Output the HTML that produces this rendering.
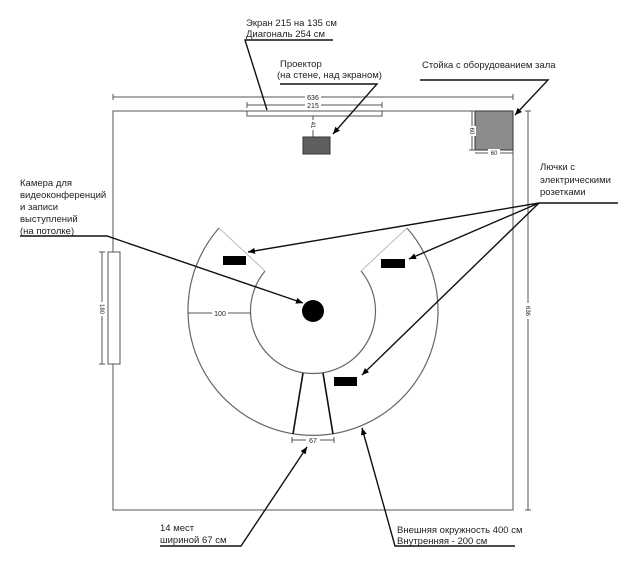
<!DOCTYPE html>
<html><head><meta charset="utf-8"><style>
html,body{margin:0;padding:0;background:#fff;}
svg{display:block;}
text{font-family:"Liberation Sans",Arial,sans-serif;fill:#222;}
</style></head><body>
<svg width="624" height="566" viewBox="0 0 624 566" xmlns="http://www.w3.org/2000/svg">
<defs>
<marker id="a" markerWidth="8" markerHeight="8" refX="7" refY="4" orient="auto" markerUnits="userSpaceOnUse">
<path d="M0,1 L7,4 L0,7 Z" fill="#000"/></marker>
</defs>
<!-- room -->
<rect x="113" y="111" width="400" height="399" fill="none" stroke="#555" stroke-width="1"/>
<!-- top dimension 636 -->
<line x1="113" y1="97" x2="513" y2="97" stroke="#555"/>
<line x1="113" y1="94" x2="113" y2="100" stroke="#555"/>
<line x1="513" y1="94" x2="513" y2="100" stroke="#555"/>
<rect x="305" y="93" width="16" height="8" fill="#fff"/>
<text x="313" y="100" font-size="7" text-anchor="middle">636</text>
<!-- 215 -->
<line x1="247" y1="105" x2="382" y2="105" stroke="#555"/>
<line x1="247" y1="102" x2="247" y2="108" stroke="#555"/>
<line x1="382" y1="102" x2="382" y2="108" stroke="#555"/>
<rect x="305" y="101" width="16" height="8" fill="#fff"/>
<text x="313" y="108" font-size="7" text-anchor="middle">215</text>
<!-- screen -->
<rect x="247" y="111" width="135" height="5" fill="none" stroke="#555"/>
<!-- 41 -->
<line x1="313" y1="116" x2="313" y2="137" stroke="#555"/>
<rect x="309" y="120" width="8" height="10" fill="#fff"/>
<text x="0" y="0" font-size="6" transform="translate(311,125) rotate(90)" text-anchor="middle">41</text>
<!-- projector -->
<rect x="303" y="137" width="27" height="17" fill="#5f5f5f" stroke="#333"/>
<!-- rack -->
<rect x="475" y="111" width="38" height="39" fill="#8c8c8c" stroke="#333"/>
<line x1="472" y1="111" x2="472" y2="150" stroke="#555"/>
<line x1="469" y1="111" x2="475" y2="111" stroke="#555"/>
<line x1="469" y1="150" x2="475" y2="150" stroke="#555"/>
<rect x="468" y="126" width="8" height="10" fill="#fff"/>
<text x="0" y="0" font-size="6" transform="translate(470,131) rotate(90)" text-anchor="middle">60</text>
<line x1="475" y1="153" x2="513" y2="153" stroke="#555"/>
<rect x="488" y="149" width="12" height="8" fill="#fff"/>
<text x="494" y="155" font-size="6" text-anchor="middle">60</text>
<!-- right dim 636 -->
<line x1="528" y1="111" x2="528" y2="510" stroke="#555"/>
<line x1="525" y1="111" x2="531" y2="111" stroke="#555"/>
<line x1="525" y1="510" x2="531" y2="510" stroke="#555"/>
<rect x="524" y="303" width="8" height="16" fill="#fff"/>
<text x="0" y="0" font-size="6" transform="translate(526,311) rotate(90)" text-anchor="middle">636</text>
<!-- left board -->
<rect x="108" y="252" width="12" height="112" fill="#fff" stroke="#555"/>
<line x1="102" y1="252" x2="102" y2="364" stroke="#555"/>
<line x1="99" y1="252" x2="105" y2="252" stroke="#555"/>
<line x1="99" y1="364" x2="105" y2="364" stroke="#555"/>
<rect x="98" y="302" width="8" height="14" fill="#fff"/>
<text x="0" y="0" font-size="6" transform="translate(100,309) rotate(90)" text-anchor="middle">180</text>
<!-- table -->
<path d="M219,228 A125,125 0 1 0 407,228" fill="none" stroke="#666" stroke-width="1.2"/>
<path d="M265,271 A62.5,62.5 0 1 0 361,271" fill="none" stroke="#666" stroke-width="1.2"/>
<line x1="219" y1="228" x2="265" y2="271" stroke="#bbb"/>
<line x1="407" y1="228" x2="361" y2="271" stroke="#bbb"/>
<line x1="303" y1="373" x2="293" y2="434" stroke="#111" stroke-width="1.6"/>
<line x1="323" y1="373" x2="333" y2="434" stroke="#111" stroke-width="1.6"/>
<!-- 100 -->
<line x1="188" y1="313" x2="251" y2="313" stroke="#555"/>
<rect x="212" y="309" width="16" height="8" fill="#fff"/>
<text x="220" y="316" font-size="7" text-anchor="middle">100</text>
<!-- 67 -->
<line x1="292" y1="440" x2="334" y2="440" stroke="#555"/>
<line x1="292" y1="437" x2="292" y2="443" stroke="#555"/>
<line x1="334" y1="437" x2="334" y2="443" stroke="#555"/>
<rect x="306" y="436" width="14" height="8" fill="#fff"/>
<text x="313" y="443" font-size="7" text-anchor="middle">67</text>
<!-- camera -->
<circle cx="313" cy="311" r="11" fill="#000"/>
<!-- outlets -->
<rect x="223" y="256" width="23" height="9" fill="#000"/>
<rect x="381" y="259" width="24" height="9" fill="#000"/>
<rect x="334" y="377" width="23" height="9" fill="#000"/>
<!-- callouts -->
<g stroke="#111" stroke-width="1.4" fill="none">
<polyline points="333,40 245,40 267,110"/>
<polyline points="280,84 377,84 333,134" marker-end="url(#a)"/>
<polyline points="420,80 548,80 515,115" marker-end="url(#a)"/>
<polyline points="20,236 107,236 303,303" marker-end="url(#a)"/>
<line x1="618" y1="203" x2="539" y2="203"/>
<line x1="539" y1="203" x2="248" y2="252" marker-end="url(#a)"/>
<line x1="539" y1="203" x2="409" y2="259" marker-end="url(#a)"/>
<line x1="539" y1="203" x2="362" y2="375" marker-end="url(#a)"/>
<polyline points="160,546 241,546 307,447" marker-end="url(#a)"/>
<polyline points="515,546 395,546 362,428" marker-end="url(#a)"/>
</g>
<!-- labels -->
<g font-size="9.5">
<text x="246" y="26">Экран  215 на 135 см</text>
<text x="246" y="37">Диагональ 254 см</text>
<text x="280" y="67">Проектор</text>
<text x="277" y="78">(на стене, над экраном)</text>
<text x="422" y="68">Стойка с оборудованием зала</text>
<text x="20" y="186">Камера для</text>
<text x="20" y="198">видеоконференций</text>
<text x="20" y="210">и записи</text>
<text x="20" y="222">выступлений</text>
<text x="20" y="234">(на потолке)</text>
<text x="540" y="170">Лючки с</text>
<text x="540" y="183">электрическими</text>
<text x="540" y="195">розетками</text>
<text x="160" y="531">14 мест</text>
<text x="160" y="543">шириной 67 см</text>
<text x="397" y="533">Внешняя окружность 400 см</text>
<text x="397" y="544">Внутренняя - 200 см</text>
</g>
</svg>
</body></html>
